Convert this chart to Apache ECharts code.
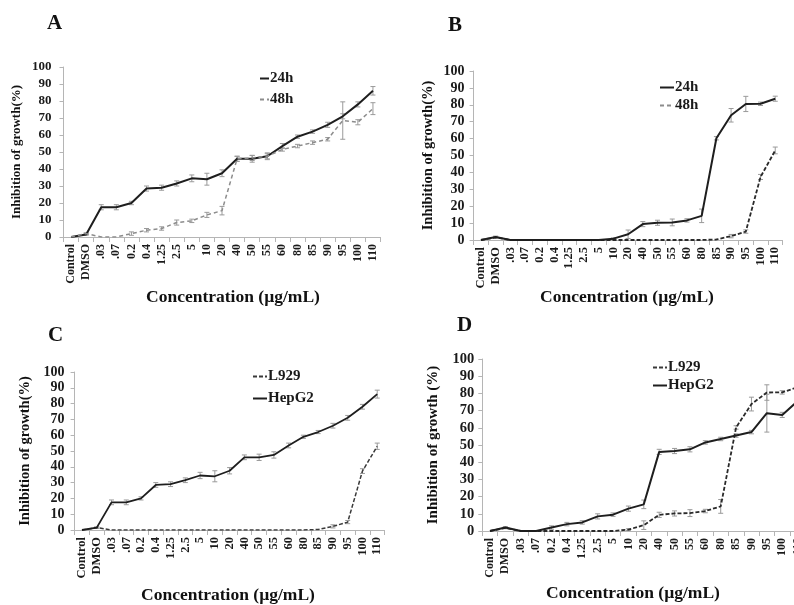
<!DOCTYPE html>
<html>
<head>
<meta charset="utf-8">
<script src="https://cdn.jsdelivr.net/npm/echarts@6/dist/echarts.min.js"></script>
<style>
html,body{margin:0;padding:0;background:#fff;}
#chart{width:794px;height:605px;}
</style>
</head>
<body>
<div id="chart"></div>
<script>
// ---------- DATA ----------
const categories = ['Control','DMSO','.03','.07','0.2','0.4','1.25','2.5','5','10','20','40','50','55','60','80','85','90','95','100','110'];

// Panel A: 24h / 48h (also HepG2 in C = 24h, HepG2 in D = 48h)
const growthA24h = [0,1.5,17.5,17.5,20,28.5,29,31.5,34.5,34,37.5,46,46,47.5,53.5,59,62,66,71,78,86];
const errorA24h  = [0,0.5,1.5,1.5,1,1.5,1.5,1.5,2,3.5,2,1.5,2,2,1.5,1,1,1.5,1.5,1.5,2.5];
const growthA48h = [0,2,0,0,2,4,5,8.5,9.5,13,15.5,46,46.5,47.5,51.5,53.5,55.5,57.5,68.5,67.5,75.5];
const errorA48h  = [0,0.5,0,0,1,1,1,1.5,1,1.5,2.5,1.5,1.5,1.5,1,1,1,1,11,1.5,3.5];

// Panel B: 24h / 48h (also L929 in C = 24h, L929 in D = 48h)
const growthB24h = [0,1.5,0,0,0,0,0,0,0,0,0,0,0,0,0,0,0.3,2.3,5,37.3,53];
const errorB24h  = [0,0.3,0,0,0,0,0,0,0,0,0,0,0,0,0,0,0,1,1,1.5,2];
const growthB48h = [0,1.8,0,0,0,0,0,0,0,0.8,3.4,9.4,10.2,10.4,11.6,14.3,60.2,73.8,80.5,80.6,83.6];
const errorB48h  = [0,0.5,0,0,0,0,0,0,0,0.5,2.5,1.5,1.5,2,1,4,1,4,4.5,1,1.5];

const yMin = 0, yMax = 100, yStep = 10;

// ---------- LAYOUT ----------
const FONT = "'Liberation Serif','Times New Roman',serif";
const panels = [
  { letter:'A', lx:47, ly:13, grid:{left:63.5, top:67, width:317, height:170},
    yTitle:'Inhibition of growth(%)', yTitleX:17, yTitleSize:13,
    xTitleX:233, xTitleY:297, yLabelSize:13, yLabelMargin:12, xLabelSize:12,
    legend:{left:254, top:66, itemWidth:9, itemGap:6, size:15},
    series:[
      {name:'24h', data:growthA24h, err:errorA24h, color:'#1e1e1e', width:2, type:'solid'},
      {name:'48h', data:growthA48h, err:errorA48h, color:'#8c8c8c', width:1.5, type:[4,3]}
    ]},
  { letter:'B', lx:448, ly:15, grid:{left:473.6, top:71, width:309, height:169},
    yTitle:'Inhibition of growth(%)', yTitleX:428, yTitleSize:14.5,
    xTitleX:627, xTitleY:297, yLabelSize:14, yLabelMargin:9, xLabelSize:12.5,
    legend:{left:654, top:75, itemWidth:14, itemGap:3, size:15},
    series:[
      {name:'24h', data:growthB24h, err:errorB24h, color:'#2a2a2a', width:1.8, type:[4,2]},
      {name:'48h', data:growthB48h, err:errorB48h, color:'#1e1e1e', width:2, type:'solid'}
    ]},
  { letter:'C', lx:48, ly:325, grid:{left:74.6, top:372, width:310, height:158},
    yTitle:'Inhibition of growth(%)', yTitleX:25, yTitleSize:14.5,
    xTitleX:228, xTitleY:595, yLabelSize:14, yLabelMargin:10, xLabelSize:12.5,
    legend:{left:247, top:364, itemWidth:14, itemGap:7, size:15},
    series:[
      {name:'L929', data:growthB24h, err:errorB24h, color:'#3a3a3a', width:1.5, type:[4,2]},
      {name:'HepG2', data:growthA24h, err:errorA24h, color:'#1e1e1e', width:1.8, type:'solid'}
    ]},
  { letter:'D', lx:457, ly:315, grid:{left:482.3, top:359, width:323, height:172},
    yTitle:'Inhibition of growth (%)', yTitleX:433, yTitleSize:15,
    xTitleX:633, xTitleY:593, yLabelSize:14.5, yLabelMargin:8, xLabelSize:12,
    legend:{left:647, top:355, itemWidth:14, itemGap:3, size:15},
    series:[
      {name:'L929', data:growthB48h, err:errorB48h, color:'#2a2a2a', width:1.8, type:[4,2]},
      {name:'HepG2', data:growthA48h, err:errorA48h, color:'#1e1e1e', width:2, type:'solid'}
    ]}
];

// ---------- OPTION ----------
const option = {
  backgroundColor:'#fff',
  animation:false,
  grid:[], xAxis:[], yAxis:[], series:[], legend:[], graphic:[]
};

function errorBarRender(color){
  return function(params, api){
    const x = api.value(0), v = api.value(1), e = api.value(2);
    if (!e) return null;
    const hi = api.coord([x, v + e]);
    const lo = api.coord([x, Math.max(0, v - e)]);
    const st = {stroke: color, lineWidth: 1};
    return {type:'group', children:[
      {type:'line', shape:{x1:hi[0], y1:hi[1], x2:lo[0], y2:lo[1]}, style:st},
      {type:'line', shape:{x1:hi[0]-2.5, y1:hi[1], x2:hi[0]+2.5, y2:hi[1]}, style:st},
      {type:'line', shape:{x1:lo[0]-2.5, y1:lo[1], x2:lo[0]+2.5, y2:lo[1]}, style:st}
    ]};
  };
}

panels.forEach((p, i) => {
  option.grid.push(Object.assign({containLabel:false, outerBoundsMode:'none'}, p.grid));
  option.xAxis.push({
    type:'category', gridIndex:i, data:categories, boundaryGap:true,
    axisLine:{lineStyle:{color:'#b5b5b5', width:1}},
    axisTick:{show:true, length:5, lineStyle:{color:'#b5b5b5'}},
    axisLabel:{rotate:90, interval:0, margin:7, fontFamily:FONT, fontWeight:'bold', fontSize:p.xLabelSize, color:'#1a1a1a', hideOverlap:false},
    splitLine:{show:false}
  });
  option.yAxis.push({
    type:'value', gridIndex:i, min:yMin, max:yMax, interval:yStep,
    axisLine:{show:true, lineStyle:{color:'#b5b5b5', width:1}},
    axisTick:{show:true, length:4, lineStyle:{color:'#b5b5b5'}},
    axisLabel:{margin:p.yLabelMargin, fontFamily:FONT, fontWeight:'bold', fontSize:p.yLabelSize, color:'#1a1a1a'},
    splitLine:{show:false}
  });
  p.series.forEach(s => {
    option.series.push({
      type:'line', name:s.name, xAxisIndex:i, yAxisIndex:i, data:s.data,
      symbol:'none', smooth:false, z:3, clip:true,
      lineStyle:{color:s.color, width:s.width, type:s.type},
      itemStyle:{color:s.color}
    });
    option.series.push({
      type:'custom', name:s.name + ' error', xAxisIndex:i, yAxisIndex:i,
      data:s.data.map((v, k) => [k, v, s.err[k]]),
      renderItem:errorBarRender('#9a9a9a'), z:2, silent:true
    });
  });
  option.legend.push({
    orient:'vertical', left:p.legend.left, top:p.legend.top,
    itemWidth:p.legend.itemWidth, itemHeight:12, itemGap:p.legend.itemGap,
    data:p.series.map(s => s.name),
    itemStyle:{opacity:0},
    textStyle:{fontFamily:FONT, fontWeight:'bold', fontSize:p.legend.size, color:'#1a1a1a', padding:[0,0,0,-4]},
    selectedMode:false
  });
  option.graphic.push(
    {type:'text', left:p.lx, top:p.ly, style:{text:p.letter, font:'bold 21px ' + FONT, fill:'#111'}},
    {type:'text', x:p.yTitleX, y:p.grid.top + p.grid.height/2, rotation:Math.PI/2,
      style:{text:p.yTitle, font:'bold ' + p.yTitleSize + 'px ' + FONT, fill:'#111', textAlign:'center', textVerticalAlign:'middle'}},
    {type:'text', x:p.xTitleX, y:p.xTitleY,
      style:{text:'Concentration (µg/mL)', font:'bold 17.5px ' + FONT, fill:'#111', textAlign:'center', textVerticalAlign:'middle'}}
  );
});

const chart = echarts.init(document.getElementById('chart'), null, {renderer:'canvas'});
chart.setOption(option);
</script>
</body>
</html>
